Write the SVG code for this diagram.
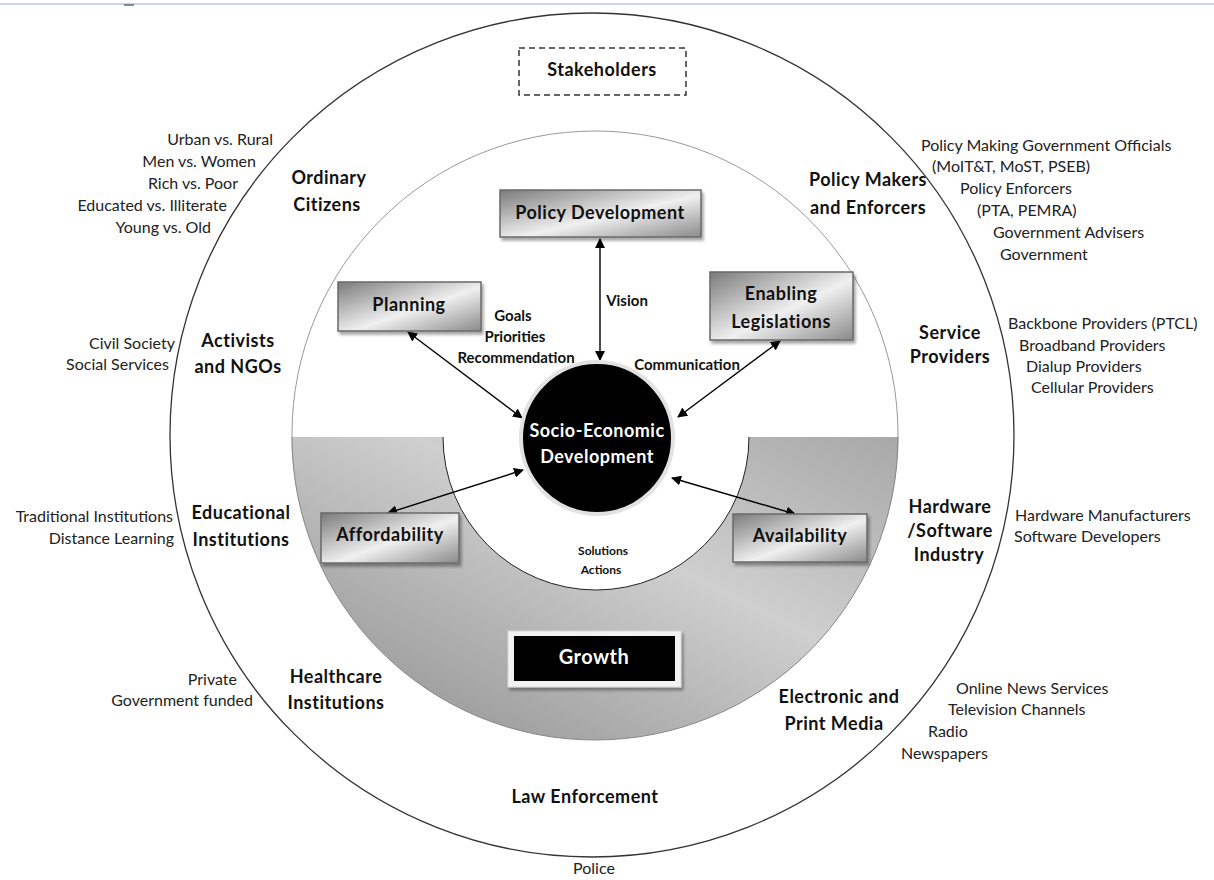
<svg xmlns="http://www.w3.org/2000/svg" width="1214" height="880" viewBox="0 0 1214 880">
<defs>
<linearGradient id="boxg" x1="0" y1="0" x2="1" y2="1">
<stop offset="0" stop-color="#7a7a7a"/>
<stop offset="0.55" stop-color="#f0f0f0"/>
<stop offset="1" stop-color="#8a8a8a"/>
</linearGradient>
<linearGradient id="ringg" x1="0" y1="1" x2="1" y2="0">
<stop offset="0" stop-color="#8c8c8c"/>
<stop offset="0.6" stop-color="#cfcfcf"/>
<stop offset="1" stop-color="#a8a8a8"/>
</linearGradient>
<filter id="sh" x="-10%" y="-10%" width="130%" height="140%">
<feDropShadow dx="2" dy="3" stdDeviation="1.5" flood-color="#000" flood-opacity="0.35"/>
</filter>
<marker id="ah" viewBox="0 0 10 10" refX="9" refY="5" markerWidth="10" markerHeight="10" markerUnits="userSpaceOnUse" orient="auto-start-reverse">
<path d="M0,0 L10,5 L0,10 Z" fill="#000"/>
</marker>
<style>
.cat{font-family:Lato,"Liberation Sans",sans-serif;font-weight:bold;font-size:18px;letter-spacing:0.5px;fill:#111;text-anchor:middle}
.ext{font-family:Lato,"Liberation Sans",sans-serif;font-size:16px;fill:#222}
.bx{font-family:Lato,"Liberation Sans",sans-serif;font-weight:bold;font-size:18px;letter-spacing:0.5px;fill:#111;text-anchor:middle}
.wt{fill:#fff}
.lbl{font-family:Lato,"Liberation Sans",sans-serif;font-weight:bold;font-size:15px;fill:#111;text-anchor:middle}
.box{fill:url(#boxg);stroke:#6a6a6a;stroke-width:1.5;filter:url(#sh)}
.arr{stroke:#000;stroke-width:1.4;fill:none;marker-start:url(#ah);marker-end:url(#ah)}
</style>
</defs>
<rect width="1214" height="880" fill="#fff"/>
<line x1="0" y1="4" x2="1214" y2="4" stroke="#b7c9e2" stroke-width="1.5"/>
<line x1="124" y1="5" x2="134" y2="5" stroke="#5a6a80" stroke-width="1.5"/>

<g id="rings">
<circle cx="592" cy="435" r="422" fill="none" stroke="#333" stroke-width="1.3"/>
<circle cx="595" cy="434" r="303" fill="#fff" stroke="#999" stroke-width="1"/>
<path d="M292 437 A303 303 0 0 0 898 437 L749 437 A153 153 0 0 1 443 437 Z" fill="url(#ringg)"/>
<path d="M749 437 A153 153 0 0 1 443 437" fill="none" stroke="#222" stroke-width="1"/>
<path d="M292 437 A303 303 0 0 0 898 437" fill="none" stroke="#888" stroke-width="1"/>
</g>

<g id="stakeholders">
<rect x="519" y="48" width="167" height="47" fill="#fff" stroke="#333" stroke-width="1.5" stroke-dasharray="6,4"/>
<text class="bx" x="602" y="76">Stakeholders</text>
</g>

<g id="connectors">
<line class="arr" x1="600" y1="239" x2="600" y2="360"/>
<line class="arr" x1="408" y1="332" x2="522" y2="418"/>
<line class="arr" x1="780" y1="341" x2="678" y2="417"/>
<line class="arr" x1="388" y1="513" x2="523" y2="470"/>
<line class="arr" x1="672" y1="478" x2="795" y2="514"/>
</g>

<g id="center">
<circle cx="597" cy="438" r="76" fill="#000" stroke="#e2e2e2" stroke-width="4"/>
<text class="bx wt" x="597" y="437">Socio-Economic</text>
<text class="bx wt" x="597" y="463">Development</text>
</g>

<g id="policy-development">
<rect class="box" x="500" y="190" width="201" height="47"/>
<text class="bx" x="600" y="219">Policy Development</text>
</g>
<g id="planning">
<rect class="box" x="338" y="282" width="143" height="49"/>
<text class="bx" x="409" y="311">Planning</text>
</g>
<g id="enabling-legislations">
<rect class="box" x="710" y="272" width="143" height="68"/>
<text class="bx" x="781" y="300">Enabling</text>
<text class="bx" x="781" y="328">Legislations</text>
</g>
<g id="affordability">
<rect class="box" x="321" y="513" width="138" height="50"/>
<text class="bx" x="390" y="541">Affordability</text>
</g>
<g id="availability">
<rect class="box" x="733" y="514" width="134" height="48"/>
<text class="bx" x="800" y="542">Availability</text>
</g>
<g id="growth">
<rect x="508" y="631" width="173" height="56" fill="#f2f2f2" stroke="#d8d8d8" stroke-width="1" filter="url(#sh)"/>
<rect x="514" y="636" width="161" height="45" fill="#000"/>
<text class="bx wt" x="594" y="664" style="font-size:20px">Growth</text>
</g>

<g id="edge-labels">
<text class="lbl" x="513" y="321">Goals</text>
<text class="lbl" x="515" y="342">Priorities</text>
<text class="lbl" x="516" y="363">Recommendation</text>
<text class="lbl" x="627" y="306">Vision</text>
<text class="lbl" x="687" y="370">Communication</text>
<text class="lbl" x="603" y="555" style="font-size:12px">Solutions</text>
<text class="lbl" x="601" y="574" style="font-size:12px">Actions</text>
</g>

<g id="categories">
<text class="cat" x="329" y="184">Ordinary</text>
<text class="cat" x="327" y="211">Citizens</text>
<text class="cat" x="868" y="186">Policy Makers</text>
<text class="cat" x="868" y="214">and Enforcers</text>
<text class="cat" x="238" y="347">Activists</text>
<text class="cat" x="238" y="373">and NGOs</text>
<text class="cat" x="950" y="339">Service</text>
<text class="cat" x="950" y="363">Providers</text>
<text class="cat" x="241" y="519">Educational</text>
<text class="cat" x="241" y="546">Institutions</text>
<text class="cat" x="950" y="513">Hardware</text>
<text class="cat" x="950" y="537">/Software</text>
<text class="cat" x="949" y="561">Industry</text>
<text class="cat" x="336" y="683">Healthcare</text>
<text class="cat" x="336" y="709">Institutions</text>
<text class="cat" x="839" y="703">Electronic and</text>
<text class="cat" x="834" y="730">Print Media</text>
<text class="cat" x="585" y="803">Law Enforcement</text>
</g>

<g id="left-details" text-anchor="end">
<text class="ext" x="273" y="145">Urban vs. Rural</text>
<text class="ext" x="256" y="167">Men vs. Women</text>
<text class="ext" x="238" y="189">Rich vs. Poor</text>
<text class="ext" x="227" y="211">Educated vs. Illiterate</text>
<text class="ext" x="211" y="233">Young vs. Old</text>
<text class="ext" x="175" y="349">Civil Society</text>
<text class="ext" x="169" y="370">Social Services</text>
<text class="ext" x="173" y="522">Traditional Institutions</text>
<text class="ext" x="174" y="544">Distance Learning</text>
<text class="ext" x="237" y="685">Private</text>
<text class="ext" x="253" y="706">Government funded</text>
</g>

<g id="right-details">
<text class="ext" x="921" y="151">Policy Making Government Officials</text>
<text class="ext" x="932" y="172">(MoIT&amp;T, MoST, PSEB)</text>
<text class="ext" x="960" y="194">Policy Enforcers</text>
<text class="ext" x="977" y="216">(PTA, PEMRA)</text>
<text class="ext" x="993" y="238">Government Advisers</text>
<text class="ext" x="1000" y="260">Government</text>
<text class="ext" x="1008" y="329">Backbone Providers (PTCL)</text>
<text class="ext" x="1019" y="351">Broadband Providers</text>
<text class="ext" x="1026" y="372">Dialup Providers</text>
<text class="ext" x="1031" y="393">Cellular Providers</text>
<text class="ext" x="1015" y="521">Hardware Manufacturers</text>
<text class="ext" x="1014" y="542">Software Developers</text>
<text class="ext" x="956" y="694">Online News Services</text>
<text class="ext" x="948" y="715">Television Channels</text>
<text class="ext" x="928" y="737">Radio</text>
<text class="ext" x="901" y="759">Newspapers</text>
<text class="ext" x="594" y="874" text-anchor="middle">Police</text>
</g>
</svg>
